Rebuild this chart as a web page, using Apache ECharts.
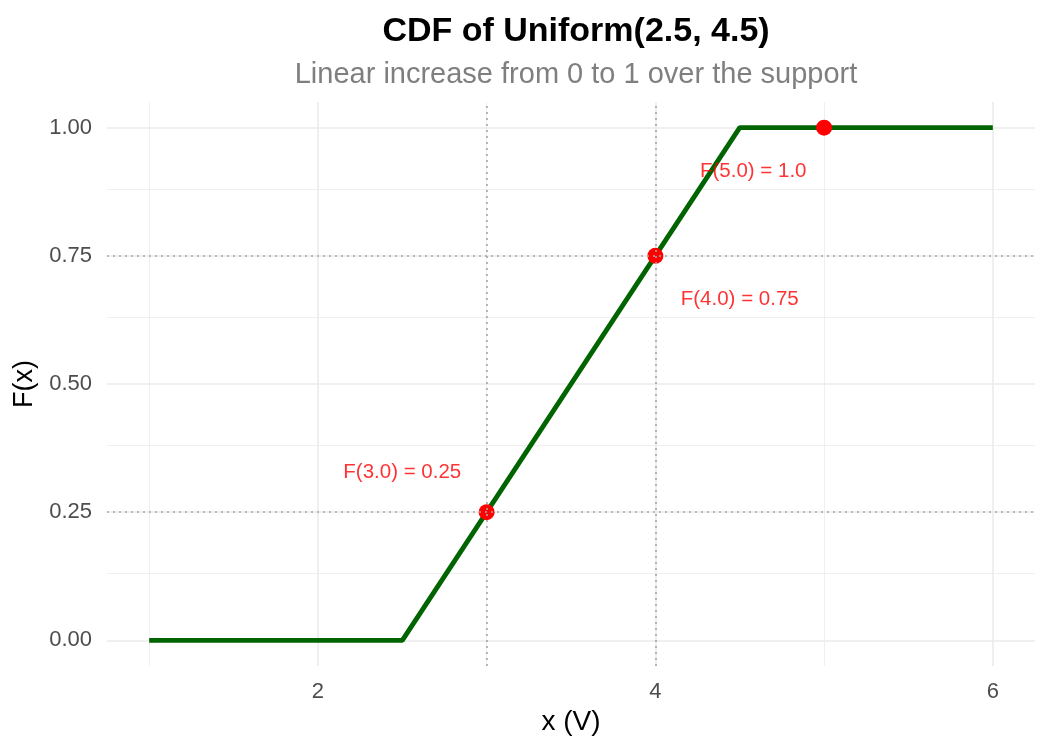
<!DOCTYPE html>
<html>
<head>
<meta charset="utf-8">
<script src="https://cdn.jsdelivr.net/npm/echarts@6/dist/echarts.min.js"></script>
<style>html,body{margin:0;padding:0;background:#fff;}#c{width:1050px;height:750px;}</style>
</head>
<body>
<div id="c"></div>
<script>
// CDF polyline vertices
const cdfX = [1, 2.5, 4.5, 6];
const cdfY = [0, 0, 1, 1];
// highlighted points
const ptX = [3, 4, 5];
const ptY = [0.25, 0.75, 1.0];
// annotation labels and their anchor positions
const annText = ['F(3.0) = 0.25', 'F(4.0) = 0.75', 'F(5.0) = 1.0'];
const annX = [2.5, 4.5, 4.58];
const annY = [0.328, 0.665, 0.915];
// reference lines
const refX = [3, 4];
const refY = [0.25, 0.75];
// ticks
const xTicks = [2, 4, 6];
const xMinor = [1, 3, 5];
const yTicks = [0, 0.25, 0.5, 0.75, 1];
const yMinor = [0.125, 0.375, 0.625, 0.875];

const FONT = 'Liberation Sans';
const chart = echarts.init(document.getElementById('c'));

const gridLines = [];
xTicks.forEach(v => gridLines.push({xAxis: v, lineStyle: {width: 1.6, color: '#ebebeb', type: 'solid'}}));
xMinor.forEach(v => gridLines.push({xAxis: v, lineStyle: {width: 0.8, color: '#ebebeb', type: 'solid'}}));
yTicks.forEach(v => gridLines.push({yAxis: v, lineStyle: {width: 1.6, color: '#ebebeb', type: 'solid'}}));
yMinor.forEach(v => gridLines.push({yAxis: v, lineStyle: {width: 0.8, color: '#ebebeb', type: 'solid'}}));

const refLines = [];
refX.forEach(v => refLines.push({xAxis: v}));
refY.forEach(v => refLines.push({yAxis: v}));

chart.setOption({
  animation: false,
  backgroundColor: '#ffffff',
  textStyle: {fontFamily: FONT},
  title: [
    {text: 'CDF of Uniform(2.5, 4.5)', left: 571, top: 10, textAlign: 'center',
     textStyle: {fontFamily: FONT, fontSize: 34, fontWeight: 'bold', color: '#000'}},
    {text: 'Linear increase from 0 to 1 over the support', left: 571, top: 55, textAlign: 'center',
     textStyle: {fontFamily: FONT, fontSize: 29, fontWeight: 'normal', color: '#7f7f7f'}}
  ],
  grid: {left: 107, right: 15, top: 102, bottom: 84, containLabel: false},
  xAxis: {
    type: 'value', min: 0.75, max: 6.25,
    name: 'x (V)', nameLocation: 'middle', nameGap: 42,
    nameTextStyle: {fontFamily: FONT, fontSize: 28, color: '#000'},
    axisLine: {show: false}, axisTick: {show: false}, splitLine: {show: false},
    axisLabel: {customValues: xTicks, fontFamily: FONT, fontSize: 22, color: '#4d4d4d', margin: 15}
  },
  yAxis: {
    type: 'value', min: -0.05, max: 1.05,
    name: 'F(x)', nameLocation: 'middle', nameGap: 62, nameRotate: 90,
    nameTextStyle: {fontFamily: FONT, fontSize: 27, color: '#000'},
    axisLine: {show: false}, axisTick: {show: false}, splitLine: {show: false},
    axisLabel: {customValues: yTicks, fontFamily: FONT, fontSize: 22, color: '#4d4d4d', margin: 15,
      formatter: v => v.toFixed(2)}
  },
  series: [
    {
      type: 'line', z: 1, silent: true, symbol: 'none',
      data: cdfX.map((x, i) => [x, cdfY[i]]),
      lineStyle: {opacity: 0},
      markLine: {silent: true, symbol: 'none', label: {show: false}, data: gridLines, z: 1}
    },
    {
      type: 'line', z: 2, symbol: 'none',
      data: cdfX.map((x, i) => [x, cdfY[i]]),
      lineStyle: {color: '#006400', width: 4.8}
    },
    {
      type: 'scatter', z: 3, symbol: 'circle', symbolSize: 16,
      data: ptX.map((x, i) => [x, ptY[i]]),
      itemStyle: {color: '#ff0000', opacity: 1}
    },
    {
      type: 'line', z: 4, symbol: 'none', silent: true,
      data: [],
      markLine: {silent: true, symbol: 'none', label: {show: false}, z: 4,
        lineStyle: {color: '#a6a6a6', width: 1.6, type: [2, 4]},
        data: refLines}
    },
    {
      type: 'scatter', z: 5, symbolSize: 0, silent: true,
      data: annX.map((x, i) => ({value: [x, annY[i]], label: {formatter: annText[i]}})),
      label: {show: true, position: 'inside', color: '#ff0000', fontFamily: FONT, fontSize: 20.5}
    }
  ]
});
</script>
</body>
</html>
